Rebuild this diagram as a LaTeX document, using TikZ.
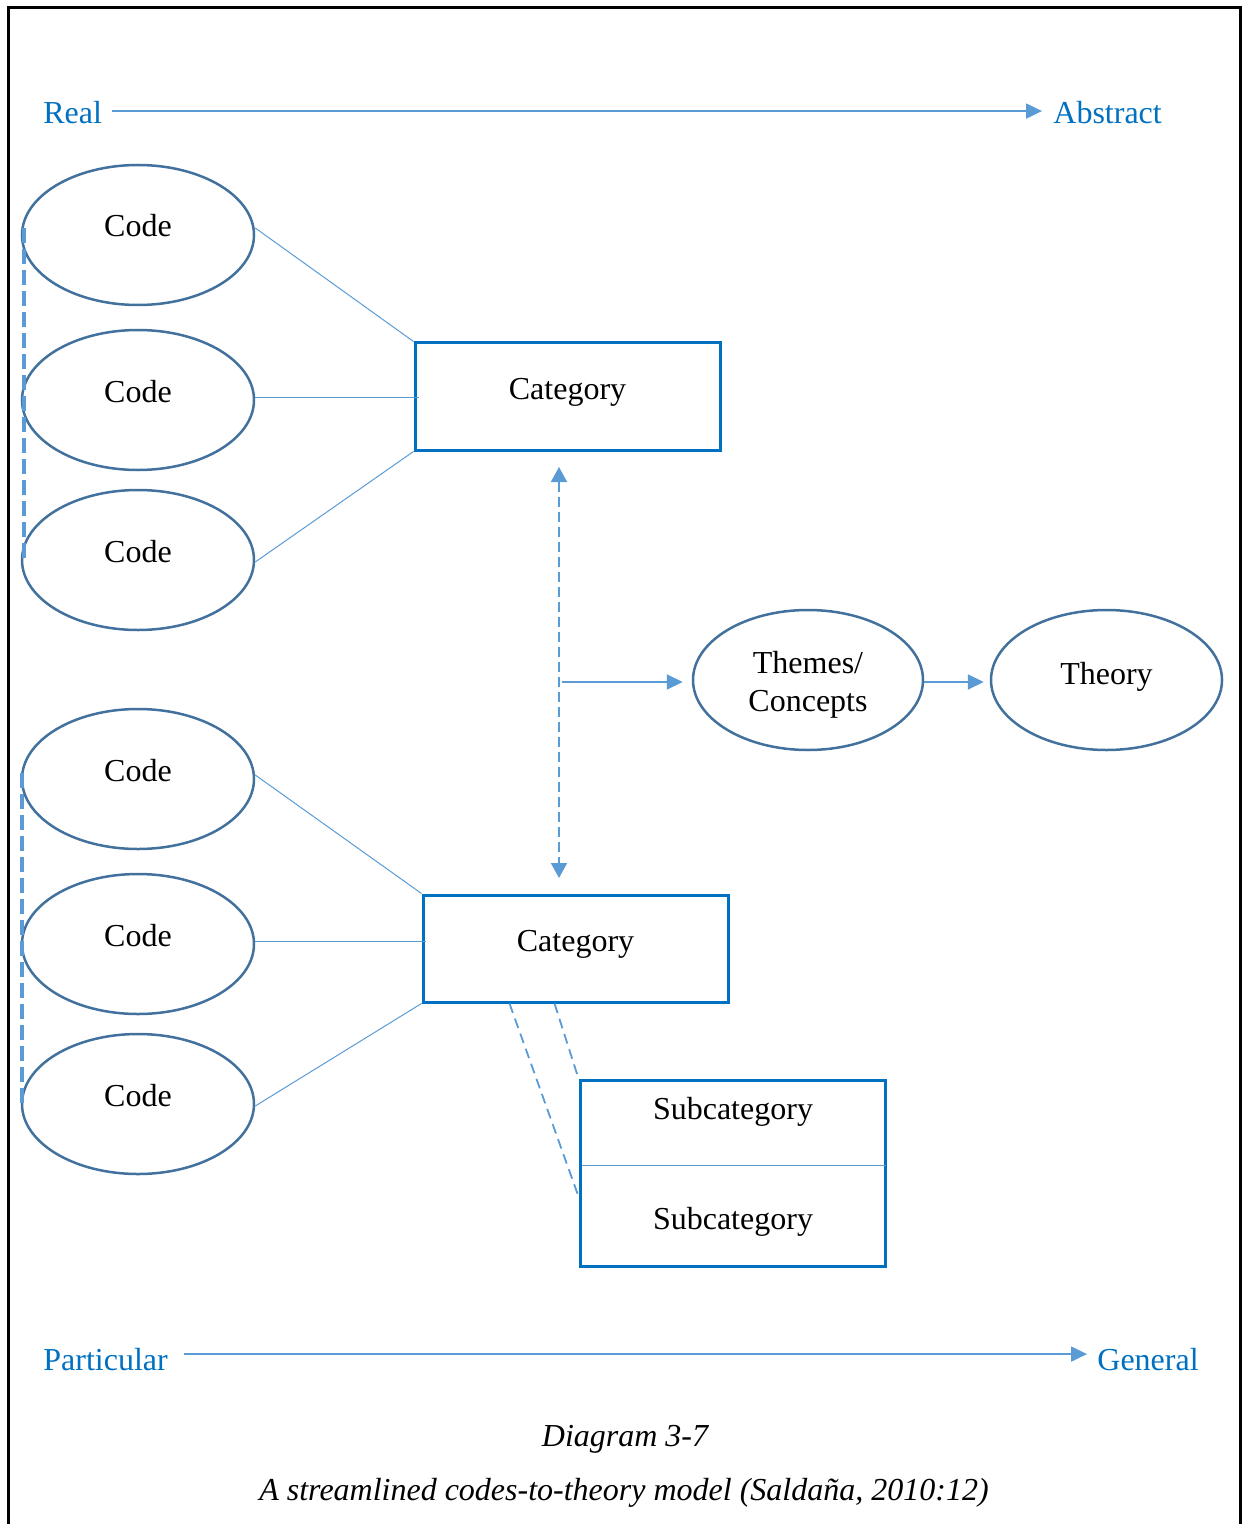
\documentclass[tikz,border=0pt]{standalone}
\usepackage{fontspec}
\setmainfont{Liberation Serif}
\usetikzlibrary{arrows.meta,shapes.geometric}
\definecolor{ellline}{HTML}{41719C}
\definecolor{boxline}{HTML}{0070C0}
\definecolor{linkblue}{HTML}{5B9BD5}
\definecolor{labelblue}{HTML}{0070C0}
\tikzset{
  codeell/.style={ellipse, draw=ellline, line width=1.25pt, minimum width=116pt, minimum height=70pt, inner sep=0pt},
  catbox/.style={rectangle, draw=boxline, line width=1.5pt, minimum width=152.5pt, minimum height=53.5pt, inner sep=0pt},
  subbox/.style={rectangle, draw=boxline, line width=1.5pt, minimum width=152.5pt, minimum height=93pt, inner sep=0pt},
  txt/.style={anchor=base, inner sep=0pt},
  axislabel/.style={text=labelblue, anchor=base west, inner sep=0pt},
  link/.style={draw=linkblue, line width=0.5pt},
  flow/.style={draw=linkblue, line width=1pt, -{Triangle[length=8pt,width=7.5pt]}},
  vdash/.style={draw=linkblue, line width=0.9pt, dash pattern=on 5pt off 2.5pt,
    {Triangle[length=7.5pt,width=8pt]}-{Triangle[length=7.5pt,width=8pt]}},
  sidedash/.style={draw=linkblue, line width=2pt, dash pattern=on 7.5pt off 3pt},
  subdash/.style={draw=linkblue, line width=0.9pt, dash pattern=on 5pt off 3pt},
}
\begin{document}
\begin{tikzpicture}[x=0.5pt, y=-0.5pt, font=\fontsize{16pt}{19pt}\selectfont]
\useasboundingbox (0,0) rectangle (1242,1524);
% open frame (continues past the lower edge)
\draw[black, line width=1.5pt] (8,1540) -- (8,8) -- (1240,8) -- (1240,1540);

% axis labels and arrows
\node[axislabel] (real) at (43,124) {Real};
\node[axislabel] (abstract) at (1053,124) {Abstract};
\node[axislabel] (particular) at (43,1370) {Particular};
\node[axislabel] (general) at (1097,1370) {General};
\draw[flow] ([xshift=5pt,yshift=1pt]real.east) -- ([xshift=-5.5pt,yshift=1pt]abstract.west);
\draw[flow] ([xshift=7.8pt,yshift=2.5pt]particular.east) -- ([xshift=-5pt,yshift=2.5pt]general.west);

% code ellipses
\node[codeell] (c1) at (138,235) {};
\node[codeell] (c2) at (138,400) {};
\node[codeell] (c3) at (138,560) {};
\node[codeell] (c4) at (138,779) {};
\node[codeell] (c5) at (138,944) {};
\node[codeell] (c6) at (138,1104) {};
\node[txt] (c1t) at (138,237) {Code};
\node[txt] (c2t) at (138,402) {Code};
\node[txt] (c3t) at (138,562) {Code};
\node[txt] (c4t) at (138,781) {Code};
\node[txt] (c5t) at (138,946) {Code};
\node[txt] (c6t) at (138,1106) {Code};

% side brackets of dashes
\draw[sidedash] ([xshift=1.5pt,yshift=3.5pt]c1.west) -- ([xshift=1.5pt]c3.west);
\draw[sidedash] ([xshift=0.5pt,yshift=3pt]c4.west) -- ([xshift=0.5pt]c6.west);

% categories
\node[catbox] (cat1) at (567.5,396.5) {};
\node[txt] (cat1t) at (567.5,399) {Category};
\node[catbox] (cat2) at (575.5,948.5) {};
\node[txt] (cat2t) at (575.5,951) {Category};

% code-to-category links
\draw[link] ([yshift=3.5pt]c1.east) -- (cat1.north west);
\draw[link] ([yshift=1.5pt]c2.east) -- ([xshift=2.5pt,yshift=1.5pt]c2.east -| cat1.west);
\draw[link] ([yshift=-1pt]c3.east) -- (cat1.south west);
\draw[link] ([yshift=2pt]c4.east) -- (cat2.north west);
\draw[link] ([yshift=1.5pt]c5.east) -- ([xshift=2pt,yshift=1.5pt]c5.east -| cat2.west);
\draw[link] ([yshift=-1pt]c6.east) -- (cat2.south west);

% themes and theory
\node[codeell, minimum width=115pt] (themes) at (808,680) {};
\node[align=center, inner sep=0pt] (themest) at (808,685) {Themes/\\Concepts};
\node[codeell, minimum width=115.5pt] (theory) at (1106.5,680) {};
\node[txt] (theoryt) at (1106.5,684) {Theory};

% vertical dashed double arrow and branch
\coordinate (vtop) at (559,467);
\coordinate (vbot) at (559,878);
\draw[vdash] (vtop) -- (vbot);
\draw[flow] ([xshift=1.5pt,yshift=-1pt]vtop |- themes) -- ([xshift=-4.5pt,yshift=-1pt]themes.west);
\draw[flow] ([yshift=-1pt]themes.east) -- ([xshift=-3pt,yshift=-1pt]theory.west);

% subcategories
\node[subbox] (sub) at (732.5,1173) {};
\draw[link] ([xshift=1.5pt,yshift=-43.5pt]sub.north west) -- ([xshift=-0.5pt,yshift=-43.5pt]sub.north east);
\node[txt] (sub1t) at (733,1119) {Subcategory};
\node[txt] (sub2t) at (733,1229) {Subcategory};
\draw[subdash] ([xshift=44pt]cat2.south west) -- ([yshift=-59pt]sub.north west);
\draw[subdash] ([xshift=66.5pt]cat2.south west) -- (sub.north west);

% caption
\node[txt, font=\fontsize{16pt}{19pt}\selectfont\itshape] (cap1) at (625,1446) {Diagram 3-7};
\node[txt, font=\fontsize{16pt}{19pt}\selectfont\itshape] (cap2) at (624,1500) {A streamlined codes-to-theory model (Saldaña, 2010:12)};
\end{tikzpicture}
\end{document}
